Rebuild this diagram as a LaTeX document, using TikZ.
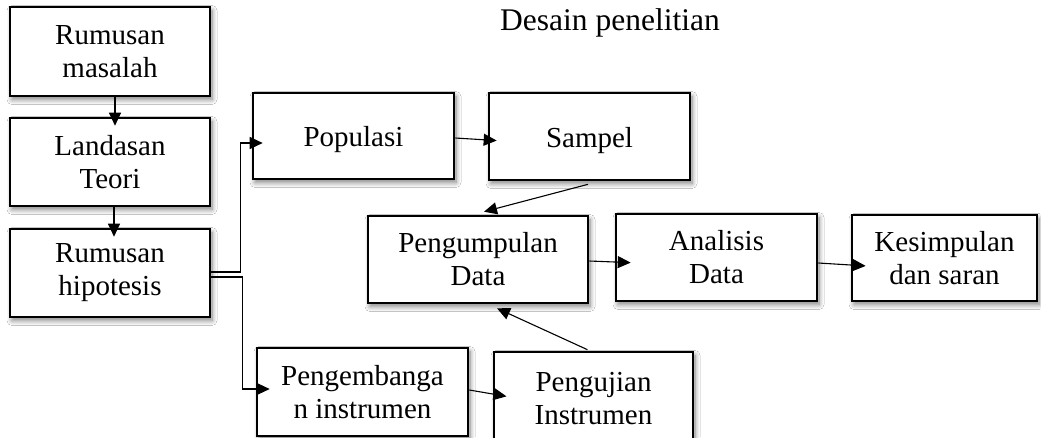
\documentclass[tikz,border=0pt]{standalone}
\usepackage{fontspec}
\setmainfont{Liberation Serif}
\usetikzlibrary{arrows.meta,shadows.blur}
\begin{document}
\begin{tikzpicture}[x=1pt,y=-1pt,
  box/.style={draw=black, line width=2.6pt, fill=white, inner sep=0pt, align=center,
    font=\fontsize{29}{33}\selectfont,
    blur shadow={shadow xshift=2pt, shadow yshift=-3.5pt, shadow blur radius=5pt, shadow blur steps=8, shadow opacity=50}},
  conn/.style={draw=black, line width=1.1pt, -{Triangle[length=13pt,width=12pt]}, shorten >=-9pt}]
\clip (0,0) rectangle (1041,437);
\fill[white] (0,0) rectangle (1041,437);

\node[font=\fontsize{31.5}{36}\selectfont, anchor=base] (title) at (610,30) {Desain penelitian};

\node[box, minimum width=200pt, minimum height=89pt] (rm) at (110,51.5) {Rumusan\\masalah};
\node[box, minimum width=200pt, minimum height=88pt] (lt) at (110,162) {Landasan\\Teori};
\node[box, minimum width=200pt, minimum height=88pt] (rh) at (110,273) {Rumusan\\hipotesis};
\node[box, minimum width=201pt, minimum height=86pt] (pop) at (353.5,136) {\raisebox{-10.5pt}[0pt][0pt]{Populasi}};
\node[box, minimum width=201pt, minimum height=87pt] (sam) at (589.5,136.5) {\raisebox{-10.5pt}[0pt][0pt]{Sampel}};
\node[box, minimum width=220pt, minimum height=87pt] (pd) at (478,259.5) {Pengumpulan\\Data};
\node[box, minimum width=201pt, minimum height=87pt] (ad) at (716.5,257.5) {Analisis\\Data};
\node[box, minimum width=185pt, minimum height=86pt] (ks) at (944.5,258) {Kesimpulan\\dan saran};
\node[box, minimum width=211pt, minimum height=88pt] (pi) at (362.5,392) {Pengembanga\\n instrumen};
\node[box, minimum width=199pt, minimum height=94pt] (pu) at (593.5,399) {Pengujian\\Instrumen};

\draw[conn] ([xshift=5pt]rm.south) -- ([xshift=5pt]lt.north);
\draw[conn] ([xshift=4pt]lt.south) -- ([xshift=4pt]rh.north);
\draw[conn, shorten >=-11pt] ([yshift=1pt]rh.east) -- ++(29,0) |- ([yshift=-7pt]pop.west);
\draw[conn, shorten >=-14pt] ([yshift=-4pt]rh.east) -- ++(31,0) |- ([yshift=3pt]pi.west);
\draw[conn] ([yshift=-2pt]pop.east) -- ([yshift=-3.5pt]sam.west);
\draw[conn, shorten >=0pt] ([xshift=-1.5pt,yshift=-3pt]sam.south) -- ([xshift=6pt,yshift=3pt]pd.north);
\draw[conn, shorten >=0pt] ([xshift=-6pt,yshift=1pt]pu.north) -- ([xshift=19pt,yshift=-4pt]pd.south);
\draw[conn, shorten >=-14pt] ([yshift=2pt]pi.east) -- ([yshift=5pt]pu.west);
\draw[conn, shorten >=-16pt] ([yshift=-1.5pt]pd.east) -- ([yshift=-4.5pt]ad.west);
\draw[conn, shorten >=-15pt] ([yshift=-5.5pt]ad.east) -- ([yshift=-7pt]ks.west);
\end{tikzpicture}
\end{document}
